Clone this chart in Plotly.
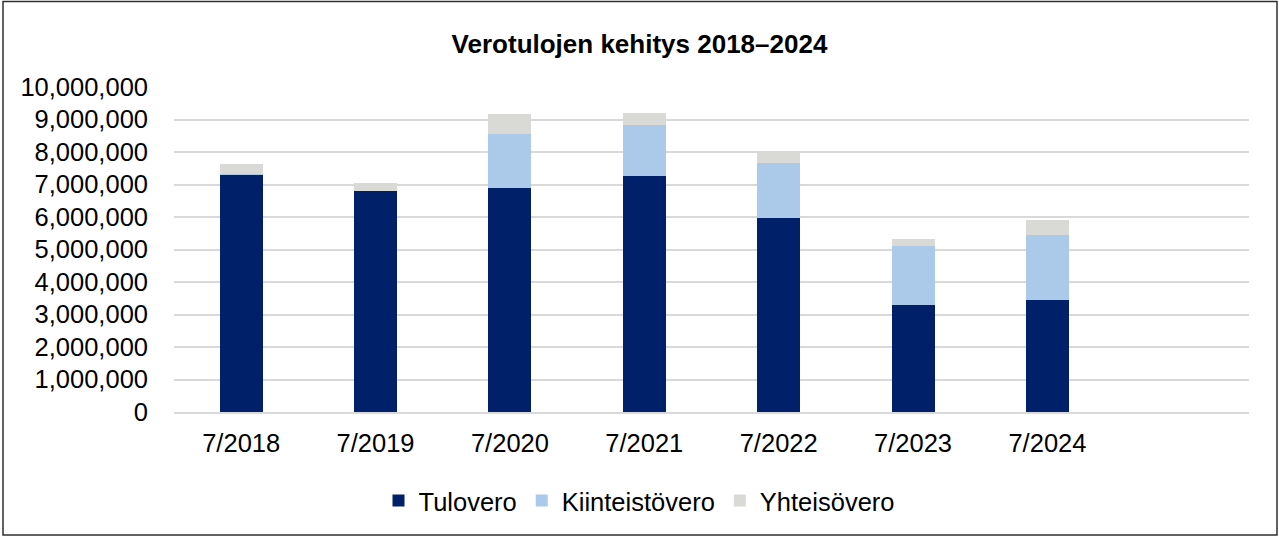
import plotly.graph_objects as go

categories = ["7/2018", "7/2019", "7/2020", "7/2021", "7/2022", "7/2023", "7/2024"]
tulovero = [7300000, 6800000, 6900000, 7270000, 5980000, 3290000, 3440000]
kiinteistovero = [30000, 0, 1660000, 1570000, 1690000, 1820000, 2010000]
yhteisovero = [310000, 250000, 620000, 370000, 370000, 210000, 460000]
series_names = ["Tulovero", "Kiinteistövero", "Yhteisövero"]
colors = ["#002169", "#ABCAE9", "#D9D9D6"]
y_ticks = list(range(0, 10000001, 1000000))

W, H = 1279, 536
ml, mr, mt, mb = 174, 30, 87, 124
pw, ph = W - ml - mr, H - mt - mb

FONT = "Liberation Sans, Arial, sans-serif"
FS = 25.5

fig = go.Figure()
for name, vals, col in zip(series_names, [tulovero, kiinteistovero, yhteisovero], colors):
    fig.add_trace(go.Bar(x=categories, y=vals, name=name, marker=dict(color=col, line=dict(width=0))))

fig.update_layout(
    width=W, height=H,
    barmode="stack", bargap=0.68,
    paper_bgcolor="white", plot_bgcolor="white",
    margin=dict(l=ml, r=mr, t=mt, b=mb, pad=0, autoexpand=False),
    font=dict(family=FONT, size=FS, color="#000000"),
    title=dict(text="<b>Verotulojen kehitys 2018–2024</b>", x=0.5, xref="container", xanchor="center",
               y=1 - 44 / H, yref="container", yanchor="middle", font=dict(size=26, family=FONT)),
    legend=dict(orientation="h", x=0.5, xanchor="center", xref="container", y=1 - 501 / H, yref="container",
                yanchor="middle", font=dict(size=FS), traceorder="normal", itemwidth=30),
    showlegend=True,
    xaxis=dict(type="category", range=[-0.5, 7.5], showgrid=False, showline=True, linecolor="#D9D9D9",
               linewidth=2, ticks="", tickfont=dict(size=FS), ticklabelstandoff=7),
    yaxis=dict(range=[0, 10000000], tickvals=y_ticks, tickformat=",d", showgrid=True, gridcolor="#D9D9D9",
               gridwidth=2, zeroline=False, ticks="", tickfont=dict(size=FS), ticklabelstandoff=25),
)

fig.add_shape(type="rect", xref="paper", yref="paper",
              x0=(3 - ml) / pw, x1=(1277 - ml) / pw,
              y0=-(535 - (H - mb)) / ph, y1=1 + (mt - 1.5) / ph,
              line=dict(color="#303030", width=1.5), fillcolor="rgba(0,0,0,0)", layer="below")

fig.write_html("out.html", config={"displayModeBar": False},
               post_script="document.body.style.margin='0';document.body.style.overflow='hidden';")
